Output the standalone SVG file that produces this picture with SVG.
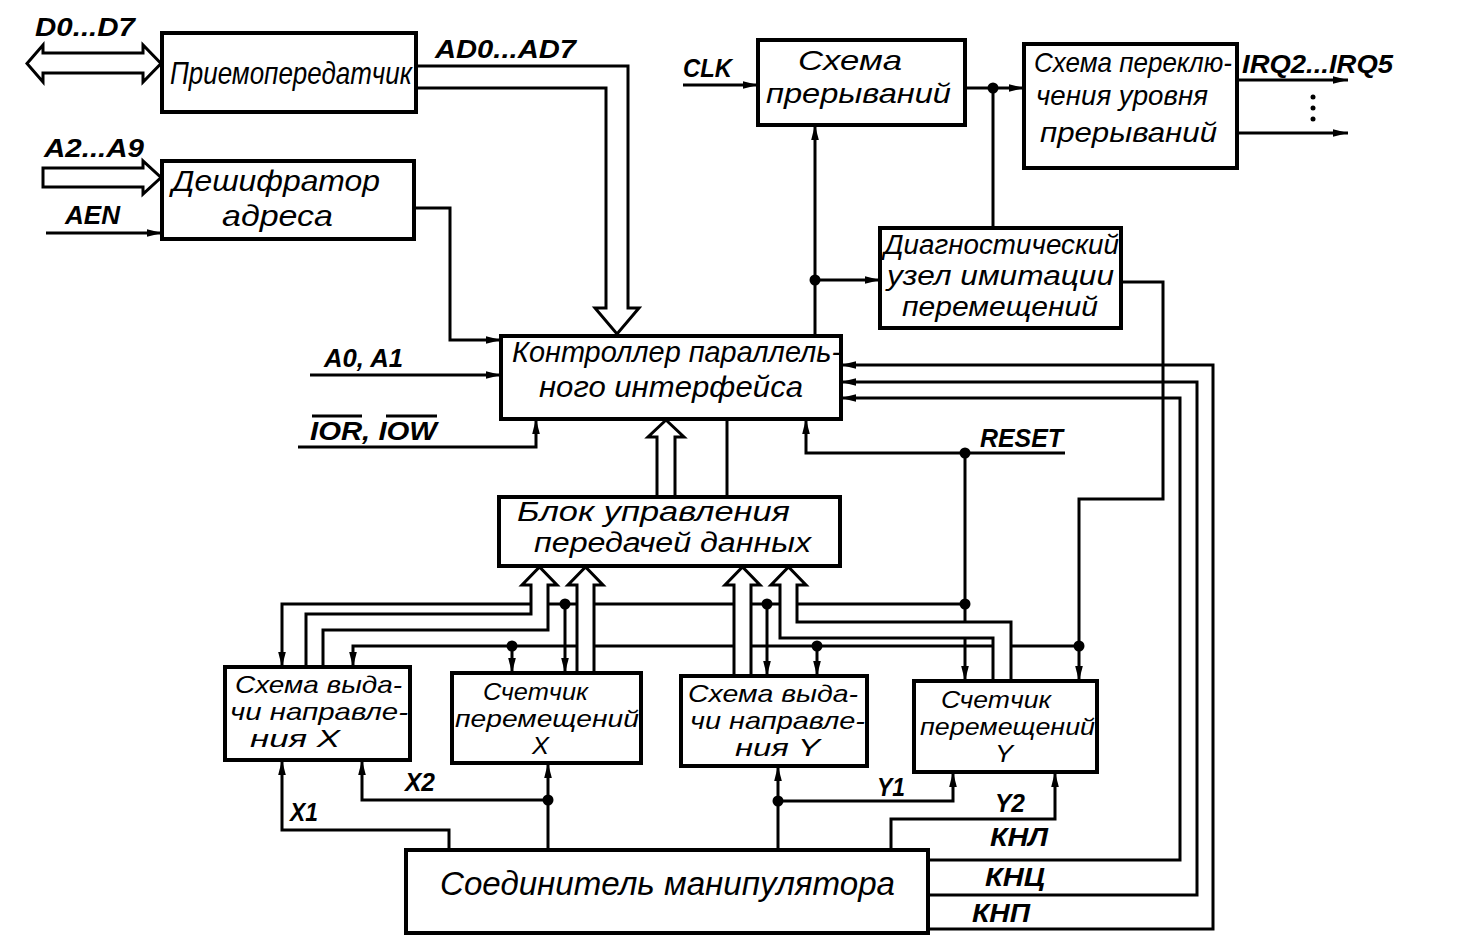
<svg xmlns="http://www.w3.org/2000/svg" width="1464" height="948" viewBox="0 0 1464 948">
<defs>
<style>
.box{fill:#fff;stroke:#000;stroke-width:4}
.ln{fill:none;stroke:#000;stroke-width:3;stroke-linejoin:miter}
.ar{marker-end:url(#ah)}
.bus{fill:#fff;stroke:#000;stroke-width:3;stroke-linejoin:miter}
.dot{fill:#000}
text{font-family:"Liberation Sans",Arial,sans-serif;font-style:italic;fill:#000}
.s{font-size:25px;font-weight:bold}
</style>
<marker id="ah" markerUnits="userSpaceOnUse" markerWidth="16" markerHeight="10" refX="15" refY="5" orient="auto">
<path d="M0,1.2 L15,5 L0,8.8 Z" fill="#000"/>
</marker>
</defs>
<rect x="0" y="0" width="1464" height="948" fill="#fff"/>

<g id="connectors">
<path class="ln ar" d="M46,233 H162"/>
<path class="ln ar" d="M414,208 H450 V340 H501"/>
<path class="ln ar" d="M310,375 H501"/>
<path class="ln ar" d="M298,447 H536 V419"/>
<path class="ln ar" d="M683,85 H758"/>
<path class="ln ar" d="M965,88 H1024"/>
<path class="ln" d="M993,88 V228"/>
<path class="ln ar" d="M1237,80 H1348"/>
<path class="ln ar" d="M1237,133 H1348"/>
<path class="ln ar" d="M815,336 V125"/>
<path class="ln ar" d="M815,280 H880"/>
<path class="ln ar" d="M1121,282 H1163 V499 H1079 V681"/>
<path class="ln ar" d="M1079,646 H353 V667"/>
<path class="ln ar" d="M817,646 V676"/>
<path class="ln ar" d="M512,646 V673"/>
<path class="ln ar" d="M1065,453 H806 V419"/>
<path class="ln ar" d="M965,453 V681"/>
<path class="ln ar" d="M965,604 H282 V667"/>
<path class="ln ar" d="M767,604 V676"/>
<path class="ln ar" d="M565,604 V673"/>
<path class="ln" d="M727,497 V419"/>
<path class="ln ar" d="M548,850 V763"/>
<path class="ln ar" d="M548,800 H362 V760"/>
<path class="ln ar" d="M449,850 V830 H282 V760"/>
<path class="ln ar" d="M778,850 V766"/>
<path class="ln ar" d="M778,801 H953 V772"/>
<path class="ln ar" d="M891,850 V819 H1055 V772"/>
<path class="ln ar" d="M928,860 H1180 V398 H841"/>
<path class="ln ar" d="M928,895 H1197 V382 H841"/>
<path class="ln ar" d="M928,929 H1213 V365 H841"/>
<!-- hollow bus arrows -->
<path class="bus" d="M27,63.5 L43,45 V53 H143 V45 L161,63.5 L143,82 V73 H43 V82 Z"/>
<path class="bus" d="M43,168 H143 V161 L161,177.5 L143,194 V187 H43 Z"/>
<path class="bus" d="M416,66 H628 V308 H639 L617,334 L595,308 H606 V88 H416"/>
<path class="bus" d="M657,497 V437 H648 L666,420 L684,437 H675 V497"/>
<path class="bus" d="M306,667 V614 H531 V585 H522 L539.5,567 L557,585 H548 V630 H323 V667"/>
<path class="bus" d="M577,673 V585 H568 L585.5,567 L603,585 H594 V673"/>
<path class="bus" d="M734,676 V585 H725 L742.5,567 L760,585 H751 V676"/>
<path class="bus" d="M993,681 V638 H780 V585 H771 L788.5,567 L806,585 H797 V622 H1011 V681"/>
<!-- junctions -->
<circle class="dot" cx="993" cy="88" r="5.5"/>
<circle class="dot" cx="815" cy="280" r="5.5"/>
<circle class="dot" cx="965" cy="453" r="5.5"/>
<circle class="dot" cx="965" cy="604" r="5.5"/>
<circle class="dot" cx="767" cy="604" r="5.5"/>
<circle class="dot" cx="565" cy="604" r="5.5"/>
<circle class="dot" cx="1079" cy="646" r="5.5"/>
<circle class="dot" cx="817" cy="646" r="5.5"/>
<circle class="dot" cx="512" cy="646" r="5.5"/>
<circle class="dot" cx="548" cy="800" r="5.5"/>
<circle class="dot" cx="778" cy="801" r="5.5"/>
<circle class="dot" cx="1313" cy="97" r="2.5"/>
<circle class="dot" cx="1313" cy="108" r="2.5"/>
<circle class="dot" cx="1313" cy="119" r="2.5"/>
</g>

<g id="labels">
<text class="s" x="35" y="36" textLength="100" lengthAdjust="spacingAndGlyphs">D0...D7</text>
<text class="s" x="435" y="58" textLength="141" lengthAdjust="spacingAndGlyphs">AD0...AD7</text>
<text class="s" x="44" y="157" textLength="100" lengthAdjust="spacingAndGlyphs">A2...A9</text>
<text class="s" x="65" y="224" textLength="55" lengthAdjust="spacingAndGlyphs">AEN</text>
<text class="s" x="683" y="77" textLength="49" lengthAdjust="spacingAndGlyphs">CLK</text>
<text class="s" x="1242" y="73" textLength="151" lengthAdjust="spacingAndGlyphs">IRQ2...IRQ5</text>
<text class="s" x="324" y="367" textLength="79" lengthAdjust="spacingAndGlyphs">A0, A1</text>
<text class="s" x="310" y="440" textLength="127" lengthAdjust="spacingAndGlyphs">IOR, IOW</text>
<path class="ln" d="M312,416 H362 M386,416 H437"/>
<text class="s" x="980" y="447" textLength="83" lengthAdjust="spacingAndGlyphs">RESET</text>
<text class="s" x="290" y="821" textLength="28" lengthAdjust="spacingAndGlyphs">X1</text>
<text class="s" x="405" y="791" textLength="30" lengthAdjust="spacingAndGlyphs">X2</text>
<text class="s" x="877" y="796" textLength="28" lengthAdjust="spacingAndGlyphs">Y1</text>
<text class="s" x="995" y="812" textLength="30" lengthAdjust="spacingAndGlyphs">Y2</text>
<text class="s" x="990" y="846" textLength="58" lengthAdjust="spacingAndGlyphs">КНЛ</text>
<text class="s" x="985" y="886" textLength="60" lengthAdjust="spacingAndGlyphs">КНЦ</text>
<text class="s" x="972" y="922" textLength="58" lengthAdjust="spacingAndGlyphs">КНП</text>
</g>

<g id="n-transceiver">
<rect class="box" x="162" y="33" width="254" height="79"/>
<text x="170" y="84" font-size="32" textLength="242" lengthAdjust="spacingAndGlyphs">Приемопередатчик</text>
</g>
<g id="n-decoder">
<rect class="box" x="162" y="161" width="252" height="78"/>
<text x="172" y="191" font-size="30" textLength="208" lengthAdjust="spacingAndGlyphs">Дешифратор</text>
<text x="222" y="226" font-size="30" textLength="111" lengthAdjust="spacingAndGlyphs">адреса</text>
</g>
<g id="n-interrupt">
<rect class="box" x="758" y="40" width="207" height="85"/>
<text x="798" y="70" font-size="28" textLength="104" lengthAdjust="spacingAndGlyphs">Схема</text>
<text x="766" y="103" font-size="28" textLength="185" lengthAdjust="spacingAndGlyphs">прерываний</text>
</g>
<g id="n-irqswitch">
<rect class="box" x="1024" y="44" width="213" height="124"/>
<text x="1034" y="72" font-size="28" textLength="198" lengthAdjust="spacingAndGlyphs">Схема переклю-</text>
<text x="1036" y="105" font-size="28" textLength="172" lengthAdjust="spacingAndGlyphs">чения уровня</text>
<text x="1040" y="142" font-size="28" textLength="177" lengthAdjust="spacingAndGlyphs">прерываний</text>
</g>
<g id="n-diag">
<rect class="box" x="880" y="228" width="241" height="100"/>
<text x="884" y="254" font-size="27" textLength="235" lengthAdjust="spacingAndGlyphs">Диагностический</text>
<text x="887" y="285" font-size="27" textLength="227" lengthAdjust="spacingAndGlyphs">узел имитации</text>
<text x="902" y="316" font-size="27" textLength="196" lengthAdjust="spacingAndGlyphs">перемещений</text>
</g>
<g id="n-controller">
<rect class="box" x="501" y="336" width="340" height="83"/>
<text x="512" y="362" font-size="30" textLength="329" lengthAdjust="spacingAndGlyphs">Контроллер параллель-</text>
<text x="539" y="397" font-size="30" textLength="264" lengthAdjust="spacingAndGlyphs">ного интерфейса</text>
</g>
<g id="n-block">
<rect class="box" x="499" y="497" width="341" height="69"/>
<text x="517" y="521" font-size="27" textLength="273" lengthAdjust="spacingAndGlyphs">Блок управления</text>
<text x="534" y="552" font-size="27" textLength="277" lengthAdjust="spacingAndGlyphs">передачей данных</text>
</g>
<g id="n-dirx">
<rect class="box" x="225" y="667" width="185" height="93"/>
<text x="235" y="693" font-size="24" textLength="167" lengthAdjust="spacingAndGlyphs">Схема выда-</text>
<text x="230" y="720" font-size="24" textLength="178" lengthAdjust="spacingAndGlyphs">чи направле-</text>
<text x="250" y="747" font-size="24" textLength="90" lengthAdjust="spacingAndGlyphs">ния X</text>
</g>
<g id="n-cntx">
<rect class="box" x="452" y="673" width="189" height="90"/>
<text x="483" y="700" font-size="24" textLength="105" lengthAdjust="spacingAndGlyphs">Счетчик</text>
<text x="455" y="727" font-size="24" textLength="184" lengthAdjust="spacingAndGlyphs">перемещений</text>
<text x="532" y="754" font-size="24" textLength="17" lengthAdjust="spacingAndGlyphs">X</text>
</g>
<g id="n-diry">
<rect class="box" x="681" y="676" width="186" height="90"/>
<text x="688" y="702" font-size="24" textLength="170" lengthAdjust="spacingAndGlyphs">Схема выда-</text>
<text x="690" y="729" font-size="24" textLength="175" lengthAdjust="spacingAndGlyphs">чи направле-</text>
<text x="735" y="756" font-size="24" textLength="85" lengthAdjust="spacingAndGlyphs">ния Y</text>
</g>
<g id="n-cnty">
<rect class="box" x="914" y="681" width="183" height="91"/>
<text x="941" y="708" font-size="24" textLength="110" lengthAdjust="spacingAndGlyphs">Счетчик</text>
<text x="920" y="735" font-size="24" textLength="175" lengthAdjust="spacingAndGlyphs">перемещений</text>
<text x="995" y="762" font-size="24" textLength="18" lengthAdjust="spacingAndGlyphs">Y</text>
</g>
<g id="n-connector">
<rect class="box" x="406" y="850" width="522" height="83"/>
<text x="440" y="895" font-size="34" textLength="455" lengthAdjust="spacingAndGlyphs">Соединитель манипулятора</text>
</g>
</svg>
